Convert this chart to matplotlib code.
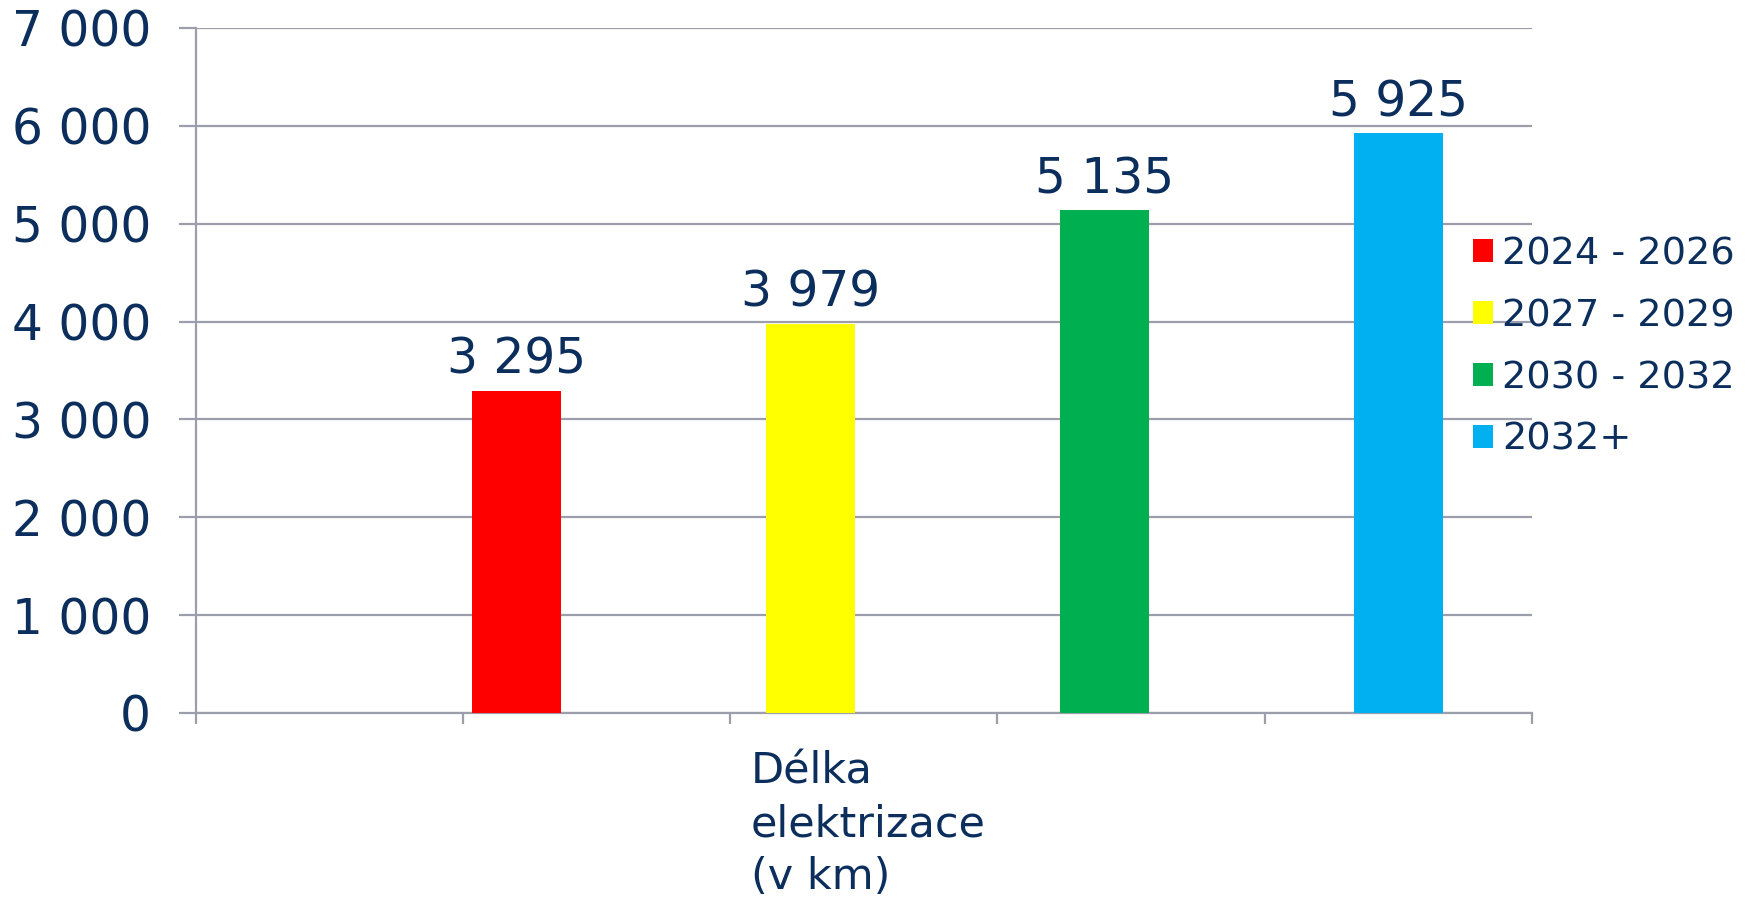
import matplotlib
matplotlib.use("Agg")
import matplotlib.pyplot as plt
import numpy as np

# data
series = ['2024 - 2026', '2027 - 2029', '2030 - 2032', '2032+']
values = [3295, 3979, 5135, 5925]
colors = ['#FF0000', '#FFFF00', '#00B050', '#00B0F0']
category = 'Délka\nelektrizace\n(v km)'

navy = '#0B2E5C'
gridc = '#9D9EAC'
plt.rcParams['font.family'] = ['DejaVu Sans']

fig = plt.figure(figsize=(17.52, 8.99), dpi=100)
ax = fig.add_axes([0.1116, 0.2069, 0.7628, 0.762])

# Excel-style clustered group inside one category
group_center = 0.5703
step = 0.22
width = 0.067
x = group_center + (np.arange(len(values)) - 1.5) * step
for xi, v, c, s in zip(x, values, colors, series):
    b = ax.bar(xi, v, width=width, color=c, label=s, zorder=3)
    ax.bar_label(b, labels=[f'{v:,}'.replace(',', ' ')], padding=5,
                 fontsize=35, color=navy)

ax.set_xlim(0, 1)
ax.set_ylim(0, 7000)
yt = np.arange(0, 7001, 1000)
ax.set_yticks(yt)
ax.set_yticklabels([f'{int(t):,}'.replace(',', ' ') for t in yt])
ax.tick_params(axis='y', length=12, width=1.6, color=gridc, pad=20,
               labelsize=35, labelcolor=navy)
ax.set_xticks(np.linspace(0, 1, 6))
ax.set_xticklabels([])
ax.tick_params(axis='x', length=8, width=1.6, color=gridc)
ax.grid(axis='y', color=gridc, linewidth=1.6, zorder=0)
ax.set_axisbelow(True)
for s in ['top', 'right']:
    ax.spines[s].set_visible(False)
for s in ['left', 'bottom']:
    ax.spines[s].set_color(gridc)
    ax.spines[s].set_linewidth(1.6)

ax.text(0.4156, -0.055, category, transform=ax.transAxes, ha='left',
        va='top', fontsize=31, color=navy, linespacing=1.33)

leg = fig.legend(loc='center left', bbox_to_anchor=(0.8407, 0.614),
                 frameon=False, fontsize=27.5, handlelength=0.52,
                 handleheight=0.52, handletextpad=0.25, labelspacing=0.68,
                 borderpad=0, borderaxespad=0)
for t in leg.get_texts():
    t.set_color(navy)

fig.savefig('out.png', dpi=100)
